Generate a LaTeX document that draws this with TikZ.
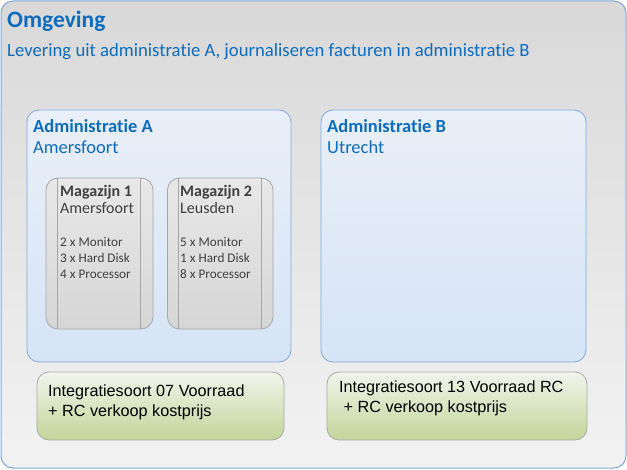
\documentclass[tikz,border=0pt]{standalone}
\usepackage{fontspec}
\setmainfont{Carlito}[Ligatures=NoCommon,RawFeature={-liga;-dlig;-clig;-calt}]
\newfontfamily\arialf{Liberation Sans}
\definecolor{txtblue}{HTML}{0F6CBD}
\definecolor{outerline}{HTML}{7FA7D6}
\definecolor{adminline}{HTML}{7FA9DC}
\definecolor{magline}{HTML}{A6A6A6}
\definecolor{magtext}{HTML}{404040}
\definecolor{grnline}{HTML}{A9A9A9}
\tikzset{
  outerbox/.style={draw=outerline, line width=1pt, rounded corners=12pt, top color=black!15, bottom color=black!5},
  adminbox/.style={draw=adminline, line width=0.8pt, rounded corners=12pt, top color={rgb,255:red,233;green,239;blue,248}, bottom color={rgb,255:red,214;green,228;blue,246}},
  magbox/.style={draw=magline, line width=0.8pt, rounded corners=12pt, top color={rgb,255:red,232;green,232;blue,232}, bottom color={rgb,255:red,214;green,214;blue,214}},
  maginner/.style={draw=magline, line width=0.8pt},
  grnbox/.style={draw=grnline, line width=0.8pt, rounded corners=12pt, top color={rgb,255:red,242;green,244;blue,236}, bottom color={rgb,255:red,194;green,214;blue,154}},
  lbl/.style={anchor=base west, inner sep=0pt, text=txtblue},
  maglbl/.style={anchor=base west, inner sep=0pt, text=magtext},
  grnlbl/.style={anchor=base west, inner sep=0pt, text=black, font=\arialf\fontsize{16.2}{18}\selectfont},
}
\begin{document}
\begin{tikzpicture}[x=1pt,y=-1pt]
\useasboundingbox (0,0) rectangle (627,470);
% outer
\path[outerbox] (1,1) rectangle (626,468);
\node[lbl, font=\bfseries\fontsize{23.5}{25}\selectfont] (title) at (7,28) {Omgeving};
\node[lbl, font=\fontsize{18.7}{20}\selectfont] (sub) at (7,57) {Levering uit administratie A, journaliseren facturen in administratie B};
% admin A
\path[adminbox] (27,110) rectangle (291,362);
\node[lbl, font=\bfseries\fontsize{18.5}{20}\selectfont] (aA) at (33,132.5) {Administratie A};
\node[lbl, font=\fontsize{18.5}{20}\selectfont] (aAc) at (33,153.5) {Amersfoort};
% admin B
\path[adminbox] (321,110) rectangle (586,362);
\node[lbl, font=\bfseries\fontsize{18.5}{20}\selectfont] (aB) at (327,132.5) {Administratie B};
\node[lbl, font=\fontsize{18.5}{20}\selectfont] (aBc) at (327,153.5) {Utrecht};
% magazijn 1
\path[magbox] (46,178) rectangle (153,329);
\draw[maginner] (57,178) -- (57,329);
\draw[maginner] (140.5,178) -- (140.5,329);
\node[maglbl, font=\bfseries\fontsize{16}{18}\selectfont] (m1) at (60,196.5) {Magazijn 1};
\node[maglbl, font=\fontsize{16}{18}\selectfont] (m1c) at (60,214) {Amersfoort};
\node[maglbl, font=\fontsize{13.2}{15}\selectfont] (m1a) at (60,246.5) {2 x Monitor};
\node[maglbl, font=\fontsize{13.2}{15}\selectfont] (m1b) at (60,262.5) {3 x Hard Disk};
\node[maglbl, font=\fontsize{13.2}{15}\selectfont] (m1d) at (60,278.5) {4 x Processor};
% magazijn 2
\path[magbox] (167.5,178) rectangle (273,329);
\draw[maginner] (178.5,178) -- (178.5,329);
\draw[maginner] (261,178) -- (261,329);
\node[maglbl, font=\bfseries\fontsize{16}{18}\selectfont] (m2) at (180,196.5) {Magazijn 2};
\node[maglbl, font=\fontsize{16}{18}\selectfont] (m2c) at (180,214) {Leusden};
\node[maglbl, font=\fontsize{13.2}{15}\selectfont] (m2a) at (180,246.5) {5 x Monitor};
\node[maglbl, font=\fontsize{13.2}{15}\selectfont] (m2b) at (180,262.5) {1 x Hard Disk};
\node[maglbl, font=\fontsize{13.2}{15}\selectfont] (m2d) at (180,278.5) {8 x Processor};
% green boxes
\path[grnbox] (37,372) rectangle (284,440);
\node[grnlbl] (g1a) at (48,397) {Integratiesoort 07 Voorraad};
\node[grnlbl] (g1b) at (48,417) {+ RC verkoop kostprijs};
\path[grnbox] (327,372) rectangle (587,440);
\node[grnlbl] (g2a) at (339,393) {Integratiesoort 13 Voorraad RC};
\node[grnlbl] (g2b) at (339,413) {\ + RC verkoop kostprijs};
\end{tikzpicture}
\end{document}
